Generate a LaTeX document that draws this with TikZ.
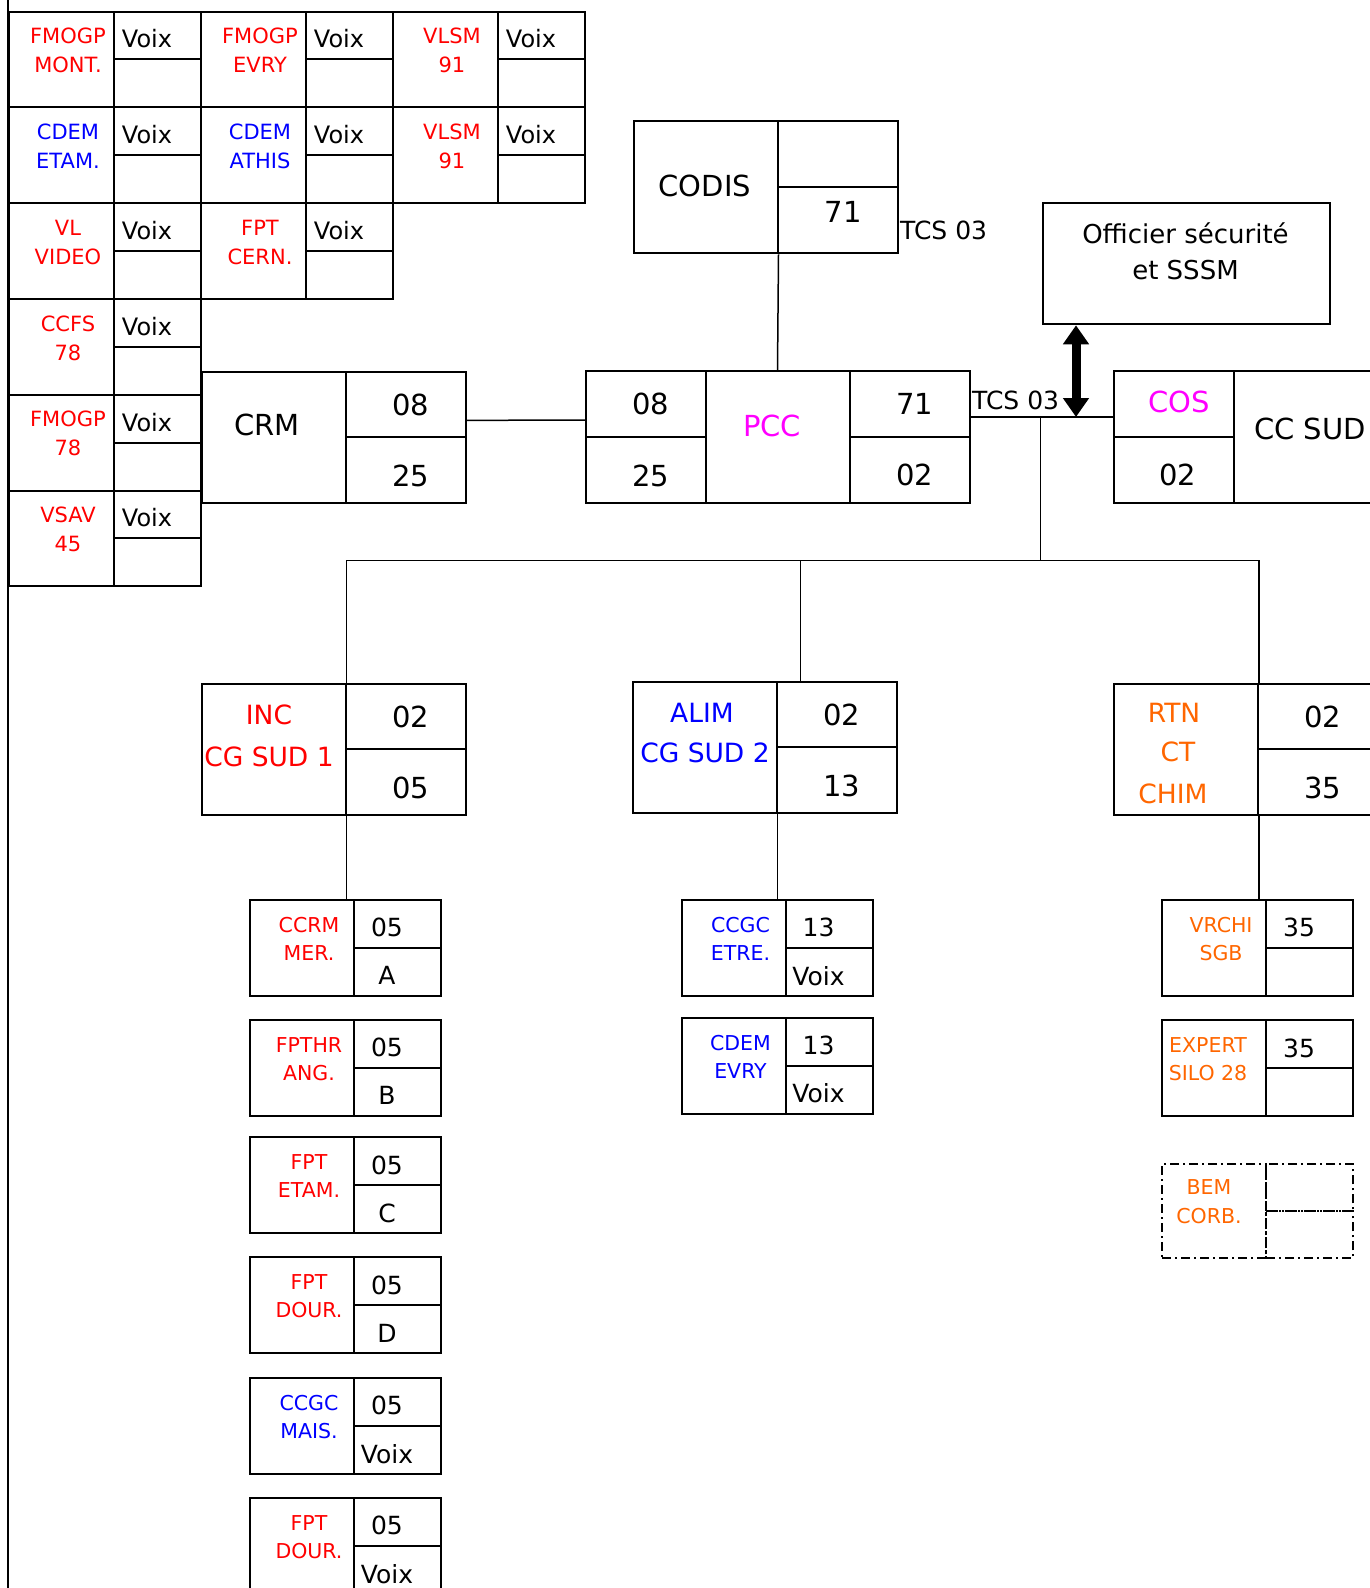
\documentclass[tikz,border=0pt]{standalone}
\usepackage{fontspec}
\setmainfont{DejaVu Sans}
\usepackage{tikz}
\usetikzlibrary{arrows.meta, positioning, calc}

\definecolor{rouge}{RGB}{255,0,0}
\definecolor{bleu}{RGB}{0,0,255}
\definecolor{rose}{RGB}{255,0,255}
\definecolor{orangec}{RGB}{255,102,0}
\newcommand{\taille}[1]{\fontsize{#1}{#1}\selectfont}

\begin{document}
\begin{tikzpicture}[x=1pt, y=-1pt,
    case/.style={draw, line width=2pt, inner sep=0pt, anchor=north west},
    pointille/.style={case, dash pattern=on 9pt off 4pt on 2pt off 4pt},
    lien/.style={line width=1.5pt},
    fleche/.style={line width=9pt, arrows={Triangle[width=25pt,length=19pt]-Triangle[width=25pt,length=19pt]}},
    nomT/.style={inner sep=0pt, font=\taille{21}},
    nomS/.style={inner sep=0pt, font=\taille{20.5}},
    nomM/.style={inner sep=0pt, font=\taille{26.5}},
    chiffre/.style={inner sep=0pt, font=\taille{29}},
    petit/.style={inner sep=0pt, font=\taille{25}},
    voixT/.style={inner sep=0pt, font=\taille{24}}]
    \useasboundingbox (0,0) rectangle (1370,1588);
    % bord gauche de la page
    \draw[line width=2.5pt] (8,0) -- (8,1588);

    % grille en haut a gauche
    \foreach \id/\x/\y/\col/\la/\lb in {
        g1/8/10.5/rouge/FMOGP/MONT., g2/200/10.5/rouge/FMOGP/EVRY, g3/392/10.5/rouge/VLSM/91,
        g4/8/106.3/bleu/CDEM/ETAM., g5/200/106.3/bleu/CDEM/ATHIS, g6/392/106.3/rouge/VLSM/91,
        g7/8/202.1/rouge/VL/VIDEO, g8/200/202.1/rouge/FPT/CERN.,
        g9/8/297.9/rouge/CCFS/78,
        g10/8/393.7/rouge/FMOGP/78,
        g11/8/489.5/rouge/VSAV/45}
    {
        \node[case, minimum width=105pt, minimum height=95.8pt] (\id) at (\x,\y) {};
        \node[case, minimum width=87pt, minimum height=47.9pt] (\id-a) at (\x+105,\y) {};
        \node[case, minimum width=87pt, minimum height=47.9pt] (\id-b) at (\x+105,\y+47.9) {};
        \node[nomT, text=\col] (\id-l1) at (\x+60,\y+25.5) {\la};
        \node[nomT, text=\col] (\id-l2) at (\x+60,\y+54.5) {\lb};
        \node[voixT] (\id-v) at (\x+139,\y+28.5) {Voix};
    }

    % CODIS
    \node[case, minimum width=143.5pt, minimum height=132.3pt] (codis) at (633,120) {};
    \node[case, minimum width=120pt, minimum height=66pt] (codis-a) at (776.5,120) {};
    \node[case, minimum width=120pt, minimum height=66.3pt] (codis-b) at (776.5,186) {};
    \node[chiffre] (codis-t) at (704.8,186) {CODIS};
    \node[chiffre] (codis-n) at (843,212) {71};
    \node[petit, anchor=west] (tcs1) at (900,230) {TCS 03};

    % CRM, INC, ALIM, RTN
    \foreach \id/\x/\y/\ha/\hb in {crm/201/370.5/08/25, inc/201/682.7/02/05,
        alim/632/680.7/02/13, rtn/1113.3/682.7/02/35}
    {
        \node[case, minimum width=143.5pt, minimum height=131.5pt] (\id) at (\x,\y) {};
        \node[case, minimum width=120pt, minimum height=65.75pt] (\id-a) at (\x+143.5,\y) {};
        \node[case, minimum width=120pt, minimum height=65.75pt] (\id-b) at (\x+143.5,\y+65.75) {};
        \node[chiffre] (\id-n1) at (\x+209.5,\y+34) {\ha};
        \node[chiffre] (\id-n2) at (\x+209.5,\y+105.5) {\hb};
    }
    \node[chiffre] (crm-t) at (267,425) {CRM};
    \node[nomM, text=rouge] (inc-t1) at (269,715) {INC};
    \node[nomM, text=rouge] (inc-t2) at (269,756.7) {CG SUD 1};
    \node[nomM, text=bleu] (alim-t1) at (702,712.5) {ALIM};
    \node[nomM, text=bleu] (alim-t2) at (705,753.3) {CG SUD 2};
    \node[nomM, text=orangec] (rtn-t1) at (1174,712.5) {RTN};
    \node[nomM, text=orangec] (rtn-t2) at (1178,752) {CT};
    \node[nomM, text=orangec] (rtn-t3) at (1173,794) {CHIM};

    % PCC
    \node[case, minimum width=119.5pt, minimum height=66pt] (pcc-a) at (585,370) {};
    \node[case, minimum width=119.5pt, minimum height=66pt] (pcc-b) at (585,436) {};
    \node[case, minimum width=144pt, minimum height=132pt] (pcc) at (704.5,370) {};
    \node[case, minimum width=120pt, minimum height=66pt] (pcc-c) at (848.5,370) {};
    \node[case, minimum width=120pt, minimum height=66pt] (pcc-d) at (848.5,436) {};
    \node[chiffre] (pcc-n1) at (650.5,404) {08};
    \node[chiffre] (pcc-n2) at (650.5,476) {25};
    \node[chiffre, text=rose] (pcc-t) at (772,426) {PCC};
    \node[chiffre] (pcc-n3) at (914.7,404) {71};
    \node[chiffre] (pcc-n4) at (914.7,474.5) {02};
    \node[petit, anchor=west] (tcs2) at (972,400) {TCS 03};

    % COS et CC SUD
    \node[case, minimum width=120pt, minimum height=66pt] (cos-a) at (1113,370) {};
    \node[case, minimum width=120pt, minimum height=66pt] (cos-b) at (1113,436) {};
    \node[case, minimum width=150pt, minimum height=132pt] (ccsud) at (1233,370) {};
    \node[chiffre, text=rose] (cos-t) at (1179,401.7) {COS};
    \node[chiffre] (cos-n) at (1177.5,474.5) {02};
    \node[chiffre, anchor=west] (ccsud-t) at (1254,429) {CC SUD};

    % officier securite
    \node[case, minimum width=287pt, minimum height=121pt] (officier) at (1042,202.3) {};
    \node[inner sep=0pt, font=\taille{26}] (off-t1) at (1185.5,233) {Officier sécurité};
    \node[inner sep=0pt, font=\taille{26}] (off-t2) at (1185.5,270) {et SSSM};

    % sous-secteurs
    \foreach \id/\x/\y/\col/\dx/\la/\lb/\ha/\hb in {
        s1/249/898.7/rouge/60/CCRM/MER./05/A,
        s2/249/1018.7/rouge/60/FPTHR/ANG./05/B,
        s3/249/1136/rouge/60/FPT/ETAM./05/C,
        s4/249/1256/rouge/60/FPT/DOUR./05/D,
        s5/249/1376.7/bleu/60/CCGC/MAIS./05/Voix,
        s6/249/1496.7/rouge/60/FPT/DOUR./05/Voix,
        s7/680.5/898.7/bleu/60/CCGC/ETRE./13/Voix,
        s8/680.5/1016.5/bleu/60/CDEM/EVRY/13/Voix,
        s9/1161/898.5/orangec/60/VRCHI/SGB/35/{},
        s10/1161/1019/orangec/47/EXPERT/SILO 28/35/{}}
    {
        \node[case, minimum width=104pt, minimum height=96pt] (\id) at (\x,\y) {};
        \node[case, minimum width=87pt, minimum height=48pt] (\id-a) at (\x+104,\y) {};
        \node[case, minimum width=87pt, minimum height=48pt] (\id-b) at (\x+104,\y+48) {};
        \node[nomS, text=\col] (\id-l1) at (\x+\dx,\y+26.5) {\la};
        \node[nomS, text=\col] (\id-l2) at (\x+\dx,\y+54.5) {\lb};
        \node[petit] (\id-n1) at (\x+138,\y+29) {\ha};
        \node[petit] (\id-n2) at (\x+138,\y+77) {\hb};
    }
    % BEM en pointille
    \node[pointille, minimum width=104pt, minimum height=94pt] (bem) at (1161,1163.3) {};
    \node[pointille, minimum width=87pt, minimum height=47pt] (bem-a) at (1265,1163.3) {};
    \node[pointille, minimum width=87pt, minimum height=47pt] (bem-b) at (1265,1210.3) {};
    \node[nomS, text=orangec] (bem-l1) at (1209,1186.7) {BEM};
    \node[nomS, text=orangec] (bem-l2) at (1209,1215.8) {CORB.};

    % liaisons
    \draw[lien] ([yshift=-16pt]crm-a.east) -- ([yshift=-16pt]pcc-a.west);
    \draw[lien] (codis.south east) -- (pcc.north);
    \coordinate (j1) at ([yshift=-13pt]pcc-c.east);
    \draw[lien] (j1) -- (j1 -| cos-a.west);
    \coordinate (bus) at (1040.5,560.7);
    \draw[lien] (bus) -- (bus |- j1);
    \draw[lien] (inc.north east) |- (bus) -| (rtn.north east);
    \coordinate (ja) at ([xshift=25pt]alim-a.north west);
    \draw[lien] (ja) -- (ja |- bus);
    \draw[lien] (inc.south east) -- (inc.south east |- s1.north);
    \draw[lien] (alim.south east) -- (alim.south east |- s7.north);
    \draw[lien] (rtn.south east) -- (rtn.south east |- s9.north);
    \coordinate (fo) at ([xshift=34pt]officier.south west);
    \draw[fleche] (fo) -- (fo |- j1);
\end{tikzpicture}
\end{document}
